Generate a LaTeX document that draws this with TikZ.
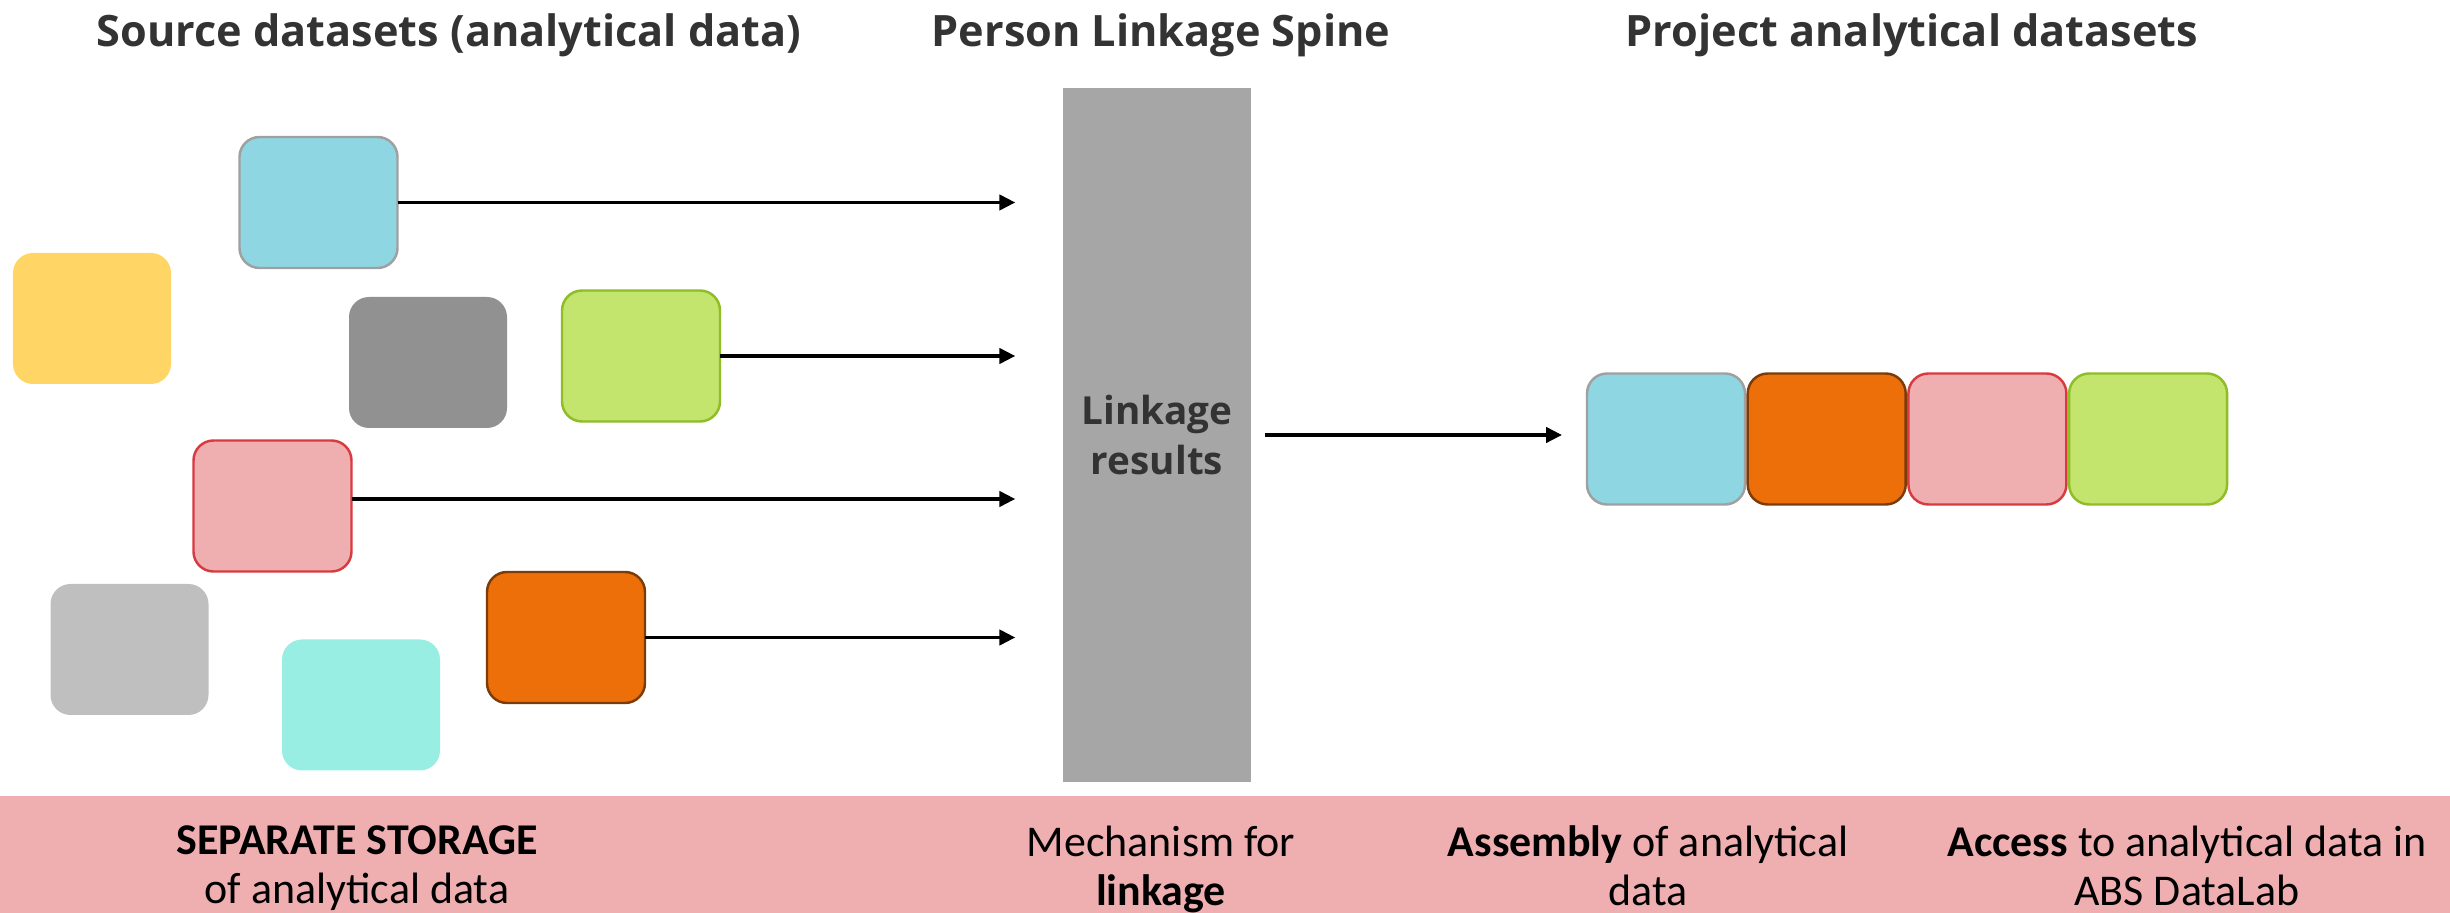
\documentclass[tikz,border=0pt]{standalone}
\usepackage{fontspec}
\setmainfont{Carlito}
\newfontfamily\headfont{Open Sans}
\usepackage{xcolor}
\usepackage{tikz}
\usetikzlibrary{arrows.meta,positioning}

\definecolor{setblue}{HTML}{8DD6E2}
\definecolor{setyellow}{HTML}{FFD666}
\definecolor{setdgray}{HTML}{919191}
\definecolor{setlgray}{HTML}{BFBFBF}
\definecolor{setgreen}{HTML}{C3E46D}
\definecolor{setpink}{HTML}{EFAFB0}
\definecolor{setturq}{HTML}{98EEE3}
\definecolor{setorange}{HTML}{ED6F0A}
\definecolor{lineblue}{HTML}{A0A0A0}
\definecolor{linegreen}{HTML}{8FBC27}
\definecolor{linepink}{HTML}{D93A40}
\definecolor{lineorange}{HTML}{7B3C0A}
\definecolor{spinegray}{HTML}{A6A6A6}
\definecolor{headgray}{HTML}{333333}

\begin{document}
\begin{tikzpicture}[
  dset/.style={rounded corners=2mm, minimum width=1.58cm, minimum height=1.31cm, inner sep=0pt, outer sep=0pt, line width=0.7pt},
  head/.style={font=\headfont\bfseries\fontsize{12.3}{15}\selectfont, text=headgray, anchor=base},
  foot/.style={font=\fontsize{12.5}{14}\selectfont, align=center, anchor=north, inner sep=0pt},
  arr/.style={-{Triangle[length=4.5pt,width=4.3pt]}, line width=1pt}]
\useasboundingbox (0,0) rectangle (24.5,-9.13);
\fill[setpink] (0,-7.96) rectangle (24.5,-9.13);

\node[head] (thsrc) at (4.49,-0.47) {Source datasets (analytical data)};
\node[head] (thspine) at (11.61,-0.47) {Person Linkage Spine};
\node[head] (thproj) at (19.12,-0.47) {Project analytical datasets};

\node[dset, fill=setblue, draw=lineblue] (blue) at (3.185,-2.025) {};
\node[dset, fill=setyellow] (yellow) at (0.92,-3.185) {};
\node[dset, fill=setdgray] (dgray) at (4.28,-3.625) {};
\node[dset, fill=setgreen, draw=linegreen] (green) at (6.41,-3.56) {};
\node[dset, fill=setpink, draw=linepink] (pink) at (2.725,-5.06) {};
\node[dset, fill=setlgray] (lgray) at (1.295,-6.495) {};
\node[dset, fill=setturq] (turq) at (3.61,-7.05) {};
\node[dset, fill=setorange, draw=lineorange] (orange) at (5.66,-6.375) {};

\node[fill=spinegray, minimum width=1.88cm, minimum height=6.94cm, align=center,
  text=headgray, font=\headfont\bfseries\fontsize{11}{14}\selectfont] (spine) at (11.57,-4.35) {Linkage\\results};

\draw[arr, shorten >=4.7mm] (blue.east) -- (blue.east -| spine.west);
\draw[arr, shorten >=4.7mm] (green.east) -- (green.east -| spine.west);
\draw[arr, shorten >=4.7mm] ([yshift=0.7mm]pink.east) -- ([yshift=0.7mm]pink.east -| spine.west);
\draw[arr, shorten >=4.7mm] (orange.east) -- (orange.east -| spine.west);

\node[dset, fill=setblue, draw=lineblue] (rblue) at (16.66,-4.39) {};
\node[dset, fill=setorange, draw=lineorange, right=0.27mm of rblue] (rorange) {};
\node[dset, fill=setpink, draw=linepink, right=0.27mm of rorange] (rpink) {};
\node[dset, fill=setgreen, draw=linegreen, right=0.27mm of rpink] (rgreen) {};

\draw[arr, shorten <=1.3mm, shorten >=2.5mm] (spine.east) -- (spine.east -| rblue.west);

\node[foot] (ftstore) at (3.57,-8.25) {\textbf{SEPARATE STORAGE}\\of analytical data};
\node[foot] (ftlink) at (11.61,-8.25) {Mechanism for\\\textbf{linkage}};
\node[foot] (ftasm) at (16.48,-8.25) {\textbf{Assembly} of analytical\\data};
\node[foot] (ftacc) at (21.87,-8.25) {\textbf{Access} to analytical data in\\ABS DataLab};
\end{tikzpicture}
\end{document}
